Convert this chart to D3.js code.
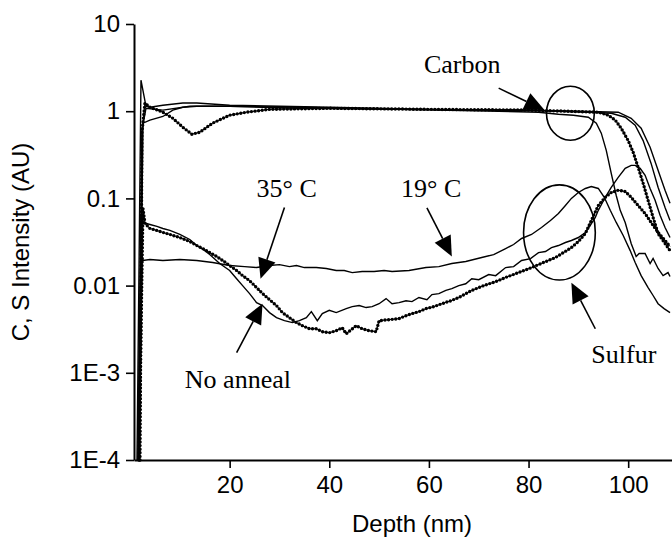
<!DOCTYPE html>
<html>
<head>
<meta charset="utf-8">
<script src="https://cdn.jsdelivr.net/npm/d3@7"></script>
<style>
body { margin: 0; background: #fff; }
svg { display: block; }
.axis path, .axis line { stroke: #000; }
.axis text { font-family: "Liberation Sans", Arial, sans-serif; font-size: 24px; fill: #000; }
.note { font-family: "Liberation Serif", "Times New Roman", serif; font-size: 26px; }
</style>
</head>
<body>
<svg width="672" height="537"></svg>
<script>
//data: [depth (nm), intensity (AU)]
const carbonA = [[1.4,1e-4],[2.2,2.27],[3.2,1.14],[4,1.11],[6.6,1.17],[10.6,1.24],[13.4,1.24],[20,1.17],[30,1.14],[40,1.11],[60,1.05],[80,1.03],[86,1.0],[92,0.974],[96.6,0.948],[99.4,0.853],[101.4,0.69],[103,0.46],[104.6,0.252],[106,0.134],[107.4,0.0788],[108.4,0.0559]];
const carbonB = [[1.6,1e-4],[2.4,0.605],[3.2,1.08],[6.6,1.03],[12,1.14],[20,1.14],[34,1.08],[54,1.05],[74,1.03],[90,1.0],[98,0.974],[100.6,0.83],[102.6,0.638],[104.4,0.386],[106,0.21],[107.4,0.124],[108.4,0.0877]];
const carbonC = [[1.8,1e-4],[2.6,0.73],[4,0.79],[6.6,0.87],[8.6,1.03],[10.6,1.11],[13.4,1.14],[20,1.14],[34,1.11],[54,1.05],[74,1.0],[82,0.974],[86,0.924],[89,0.9],[92,0.853],[93.6,0.73],[94.6,0.56],[95.6,0.356],[96.6,0.194],[97.6,0.108],[98.4,0.073],[99.4,0.053],[100.6,0.0304],[101.6,0.0216],[102.2,0.0233],[103.4,0.0233],[104.4,0.0179],[105,0.0205],[106,0.0157],[107,0.013],[108,0.0141],[108.4,0.0127]];
const carbonDotted = [[2,1e-4],[2.4,0.574],[3,1.24],[4,1.11],[6.6,0.974],[8.6,0.83],[10.6,0.655],[12.4,0.544],[14,0.574],[16.6,0.73],[20,0.9],[23.4,0.974],[28,1.05],[40,1.08],[60,1.05],[80,1.03],[94,0.974],[96,0.9],[97.4,0.79],[98.6,0.638],[100,0.46],[101,0.338],[102,0.227],[103,0.149],[104,0.095],[105,0.0605],[106,0.0396],[107.4,0.0304],[108.4,0.0252]];

const sulfur19 = [[1.8,1e-4],[2.4,0.0221],[2.6,0.0194],[4,0.0199],[6.6,0.0194],[10,0.0199],[13.4,0.0194],[16.6,0.0184],[20,0.017],[23,0.0165],[25.4,0.0161],[28,0.017],[30,0.0174],[32,0.0165],[33.4,0.017],[35,0.0161],[37.4,0.0161],[39.4,0.0157],[41.4,0.0149],[43,0.0149],[44.6,0.0141],[46.6,0.0145],[49,0.0145],[51,0.0149],[52.6,0.0145],[56,0.0149],[59.4,0.0161],[62,0.0165],[64.6,0.0179],[67.4,0.0189],[70.6,0.021],[73,0.0227],[75.4,0.0266],[77,0.0296],[78.6,0.0347],[80.6,0.0386],[82.6,0.0464],[84.4,0.0559],[86,0.067],[87.4,0.083],[88.6,0.1],[90,0.117],[91.4,0.13],[92.6,0.137],[94,0.13],[95.2,0.103],[96.4,0.073],[97.6,0.053],[99,0.0376],[100.4,0.0252],[101.4,0.0184],[102.6,0.013],[104,0.0095],[105,0.0077],[106,0.0062],[107.2,0.00544],[108.4,0.0049]];
const sulfurA = [[1.6,1e-4],[2.2,0.064],[2.6,0.053],[4,0.0502],[5.4,0.0477],[6.6,0.0452],[8,0.0429],[10,0.0386],[12,0.0338],[13.4,0.0288],[15,0.0252],[16,0.0227],[18,0.0179],[20,0.0149],[21.4,0.012],[22.6,0.01],[24,0.0081],[25.4,0.00638],[26.6,0.0059],[28,0.0049],[29.4,0.00429],[31,0.00396],[32.6,0.00376],[34,0.00396],[35.4,0.00429],[36.4,0.00503],[37.6,0.00396],[38.6,0.00477],[40,0.0052],[41.4,0.0049],[43.4,0.00544],[44.6,0.00574],[46,0.0059],[47.4,0.0056],[48.6,0.00574],[50,0.0062],[51.4,0.0071],[52.6,0.0062],[54,0.00638],[55.4,0.0067],[56.6,0.00655],[58,0.0073],[59.6,0.0069],[60.6,0.00788],[62,0.0081],[63.4,0.0088],[64.6,0.00924],[66,0.01],[67.4,0.0105],[68.6,0.012],[70,0.0117],[72,0.0134],[73.4,0.013],[75.4,0.0161],[77,0.0165],[78.6,0.0194],[80.4,0.0204],[82,0.0239],[83.4,0.0246],[84.6,0.0273],[86,0.0288],[87.4,0.0312],[88.6,0.0329],[90,0.0356],[91.4,0.0407],[92.4,0.049],[93.4,0.0605],[94,0.073],[95.4,0.103],[96.6,0.134],[98,0.174],[99.4,0.221],[100.6,0.239],[101.4,0.239],[102.4,0.221],[103.4,0.184],[104.4,0.13],[105.4,0.095],[106.4,0.064],[107.4,0.0464],[108.4,0.0356]];
const sulfurDotted = [[1.8,1e-4],[2.6,0.0767],[3,0.0516],[4,0.0452],[5.4,0.0429],[6.6,0.0407],[8,0.0386],[10,0.0356],[12,0.032],[13.4,0.0288],[15,0.0259],[16,0.0239],[17.4,0.0216],[18.6,0.0194],[20,0.017],[21.4,0.0149],[22.6,0.013],[24,0.0114],[25.4,0.0095],[26.6,0.0081],[28,0.0069],[29.4,0.0059],[30.6,0.0049],[32,0.00429],[33.4,0.00376],[34.6,0.00347],[36,0.0032],[37.4,0.0032],[38.6,0.00296],[40,0.00288],[41.4,0.00304],[42.6,0.00329],[43.4,0.0028],[44.4,0.00312],[45.4,0.00347],[46.6,0.0032],[48,0.00304],[49.4,0.00296],[50,0.00396],[52,0.00407],[54,0.00418],[55.4,0.00452],[56.6,0.00477],[58,0.00503],[59.4,0.00544],[61,0.00574],[62.6,0.0062],[64.4,0.0067],[66,0.0073],[68.6,0.0088],[71,0.01],[73.4,0.0111],[75.4,0.0124],[78,0.0141],[80.6,0.0161],[83,0.0184],[85.4,0.021],[87,0.0239],[88.6,0.0273],[90,0.032],[91.4,0.0396],[92.6,0.0559],[94,0.083],[95.4,0.103],[96.6,0.117],[98,0.124],[99.4,0.12],[100.6,0.103],[102,0.083],[103.4,0.067],[104.6,0.053],[106,0.0407],[107.4,0.0329],[108.4,0.0281]];

//axes
const xMajor = [20, 40, 60, 80, 100];
const xMinor = [10, 30, 50, 70, 90];
const yMajor = [1e-4, 1e-3, 0.01, 0.1, 1, 10];
const yTickLabels = ["1E-4", "1E-3", "0.01", "0.1", "1", "10"];
const xTitle = "Depth (nm)";
const yTitle = "C, S Intensity (AU)";

//annotations (depth, intensity)
const noteText = ["Carbon", "35\u00b0 C", "19\u00b0 C", "No anneal", "Sulfur"];
const notePos = [[59, 2.73], [25.4, 0.103], [54.4, 0.105], [11, 6.7e-4], [92.6, 1.3e-3]];
const arrowFrom = [[74, 1.84], [31, 0.0788], [59.6, 0.0778], [21.4, 0.0017], [93.4, 0.0032]];
const arrowTip = [[83.2, 1.03], [26.2, 0.012], [64.6, 0.0216], [26.6, 0.0062], [88.6, 0.0108]];
//ellipses: center depth, center intensity, half width (nm), half height (decades)
const rings = [[88.4, 0.948, 4.8, 0.31], [86.2, 0.0407, 7.2, 0.546]];

const svg = d3.select('svg');
svg.append('rect').attr('width', 672).attr('height', 537).attr('fill', '#fff');

const x = d3.scaleLinear().domain([0.8, 110]).range([134, 678]);
const y = d3.scaleLog().domain([1e-4, 10]).range([460, 24]);

svg.append('clipPath').attr('id', 'plot')
	.append('rect').attr('x', 134).attr('y', 10).attr('width', 540).attr('height', 452);

const line = d3.line().x(d => x(d[0])).y(d => y(d[1]));
const plot = svg.append('g').attr('clip-path', 'url(#plot)');

[carbonA, carbonB, carbonC, sulfur19, sulfurA].forEach(s => {
	plot.append('path').attr('d', line(s))
		.attr('fill', 'none').attr('stroke', '#000').attr('stroke-width', 1.4);
});

[carbonDotted, sulfurDotted].forEach(s => {
	plot.append('path').attr('d', line(s))
		.attr('fill', 'none').attr('stroke', '#000').attr('stroke-width', 1);
	plot.append('path').attr('d', line(s))
		.attr('fill', 'none').attr('stroke', '#000').attr('stroke-width', 3.4)
		.attr('stroke-linecap', 'round').attr('stroke-dasharray', '0 3.6');
});

//minor log ticks
let yMinor = [];
yMajor.slice(0, -1).forEach(d => { for (let k = 2; k < 10; k++) yMinor.push(d * k); });

const gx = svg.append('g').attr('class', 'axis').attr('transform', 'translate(0,460)');
gx.call(d3.axisBottom(x).tickValues(xMinor).tickSize(5).tickSizeOuter(0).tickFormat(''));
gx.call(d3.axisBottom(x).tickValues(xMajor).tickSize(8).tickSizeOuter(0).tickPadding(8));
gx.selectAll('path').attr('stroke-width', 2);
gx.selectAll('line').attr('stroke-width', 1.6);

const gy = svg.append('g').attr('class', 'axis').attr('transform', 'translate(134,0)');
gy.call(d3.axisLeft(y).tickValues(yMinor).tickSize(5).tickSizeOuter(0).tickFormat(''));
gy.call(d3.axisLeft(y).tickValues(yMajor).tickSize(8).tickSizeOuter(0).tickPadding(6)
	.tickFormat((d, i) => yTickLabels[i]));
gy.selectAll('path').attr('stroke-width', 2);
gy.selectAll('line').attr('stroke-width', 1.6);
svg.selectAll('.axis .domain').attr('fill', 'none');

svg.append('text').attr('x', 412).attr('y', 532).attr('text-anchor', 'middle')
	.style('font-family', '"Liberation Sans", Arial, sans-serif').style('font-size', '24px')
	.text(xTitle);
svg.append('text').attr('transform', 'translate(29,242) rotate(-90)').attr('text-anchor', 'middle')
	.style('font-family', '"Liberation Sans", Arial, sans-serif').style('font-size', '24px')
	.text(yTitle);

//annotations
const notes = svg.append('g');
noteText.forEach((t, i) => {
	notes.append('text').attr('class', 'note')
		.attr('x', x(notePos[i][0])).attr('y', y(notePos[i][1])).text(t);

	const x0 = x(arrowFrom[i][0]), y0 = y(arrowFrom[i][1]);
	const x1 = x(arrowTip[i][0]), y1 = y(arrowTip[i][1]);
	const a = Math.atan2(y1 - y0, x1 - x0), len = 20, hw = 9;
	const bx = x1 - len * Math.cos(a), by = y1 - len * Math.sin(a);
	notes.append('line').attr('x1', x0).attr('y1', y0).attr('x2', bx).attr('y2', by)
		.attr('stroke', '#000').attr('stroke-width', 1.6);
	notes.append('polygon')
		.attr('points', [[x1, y1], [bx + hw * Math.sin(a), by - hw * Math.cos(a)], [bx - hw * Math.sin(a), by + hw * Math.cos(a)]].map(p => p.join(',')).join(' '))
		.attr('fill', '#000');
});

rings.forEach(r => {
	notes.append('ellipse')
		.attr('cx', x(r[0])).attr('cy', y(r[1]))
		.attr('rx', x(r[0] + r[2]) - x(r[0]))
		.attr('ry', y(r[1]) - y(r[1] * Math.pow(10, r[3])))
		.attr('fill', 'none').attr('stroke', '#000').attr('stroke-width', 1.6);
});
</script>
</body>
</html>
